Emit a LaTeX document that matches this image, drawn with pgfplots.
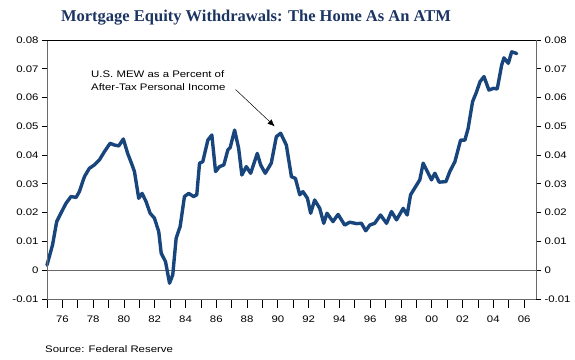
\documentclass[border=0pt]{standalone}
\usepackage{fontspec}
\setmainfont{Liberation Sans}
\newfontfamily\sansS[FakeStretch=1.2]{Liberation Sans}
\newfontfamily\titlefont{Liberation Serif}
\usepackage{pgfplots}
\usepackage{pgfplotstable}
\usetikzlibrary{arrows.meta}
\pgfplotsset{compat=1.18}
\definecolor{mewblue}{RGB}{24,70,124}
\definecolor{titleblue}{RGB}{28,52,98}
\definecolor{axgray}{RGB}{105,105,105}
\pgfplotstableread{
year mew
1975.00 0.0018
1975.36 0.0088
1975.63 0.0169
1975.90 0.0198
1976.24 0.0233
1976.56 0.0256
1976.89 0.0253
1977.10 0.0273
1977.43 0.0325
1977.75 0.0354
1978.08 0.0366
1978.40 0.0383
1978.73 0.0412
1979.10 0.0441
1979.38 0.0435
1979.66 0.0432
1979.96 0.0456
1980.24 0.0406
1980.50 0.0370
1980.68 0.0343
1980.96 0.0250
1981.18 0.0267
1981.44 0.0238
1981.70 0.0198
1981.98 0.0181
1982.26 0.0134
1982.42 0.0059
1982.70 0.0030
1982.96 -0.0045
1983.17 -0.0016
1983.39 0.0111
1983.65 0.0152
1983.93 0.0256
1984.21 0.0267
1984.52 0.0256
1984.73 0.0262
1984.91 0.0372
1985.12 0.0377
1985.45 0.0452
1985.71 0.0470
1985.95 0.0343
1986.21 0.0360
1986.49 0.0366
1986.75 0.0418
1986.90 0.0426
1987.19 0.0487
1987.45 0.0424
1987.66 0.0331
1987.95 0.0360
1988.23 0.0337
1988.66 0.0406
1988.88 0.0366
1989.18 0.0337
1989.57 0.0372
1989.90 0.0464
1990.18 0.0476
1990.55 0.0435
1990.88 0.0325
1991.14 0.0319
1991.42 0.0262
1991.63 0.0273
1991.92 0.0250
1992.13 0.0198
1992.39 0.0244
1992.72 0.0215
1992.98 0.0163
1993.19 0.0198
1993.58 0.0169
1993.91 0.0194
1994.34 0.0157
1994.67 0.0167
1995.10 0.0162
1995.43 0.0163
1995.71 0.0137
1995.97 0.0157
1996.29 0.0163
1996.67 0.0192
1997.06 0.0163
1997.38 0.0204
1997.71 0.0175
1998.14 0.0215
1998.40 0.0192
1998.62 0.0262
1999.01 0.0296
1999.22 0.0314
1999.44 0.0372
1999.66 0.0348
1999.98 0.0314
2000.20 0.0337
2000.48 0.0306
2000.92 0.0308
2001.17 0.0343
2001.50 0.0377
2001.87 0.0452
2002.15 0.0452
2002.36 0.0493
2002.65 0.0586
2002.91 0.0620
2003.13 0.0655
2003.39 0.0673
2003.71 0.0626
2004.00 0.0632
2004.25 0.0630
2004.54 0.0713
2004.69 0.0738
2004.97 0.0719
2005.19 0.0759
2005.52 0.0753
}\mewdata
\newcommand{\tickfont}{\sansS\fontsize{9.5}{11}\selectfont}
\begin{document}
\begin{tikzpicture}
\useasboundingbox (0pt,0pt) rectangle (575pt,359pt);
\pgfplotsset{
  base/.style={at={(47pt,60pt)}, anchor=south west, width=489pt, height=259pt,
    scale only axis, xmin=1975, xmax=2006.77, ymin=-0.01, ymax=0.08,
    scaled y ticks=false, scaled x ticks=false,
    tick align=outside, tick style={black, line width=0.8pt},
    axis line style={axgray, line width=1pt, -}}
}
% x axis with data
\begin{axis}[base,
  axis x line*=bottom, axis y line*=left,
  ytick=\empty,
  xtick={1975,...,2006},
  xticklabels={,76,,78,,80,,82,,84,,86,,88,,90,,92,,94,,96,,98,,00,,02,,04,,06},
  major tick length=9pt,
  xticklabel style={font=\tickfont, yshift=-4.5pt},
  clip=false]
\addplot[axgray, line width=1pt] coordinates {(1975,0) (2006.77,0)};
\addplot[mewblue, line width=3.4pt, line join=round, line cap=round] table[x=year, y=mew] {\mewdata};
\draw[-{Latex[length=7pt,width=6pt]}, black, line width=0.5pt] (axis cs:1987.25,0.0628) -- (axis cs:1989.79,0.0500);
\end{axis}
% left y axis
\begin{axis}[base,
  axis x line*=bottom, axis y line*=left,
  xtick=\empty,
  ytick={-0.01,0,0.01,0.02,0.03,0.04,0.05,0.06,0.07,0.08},
  yticklabels={-0.01,0,0.01,0.02,0.03,0.04,0.05,0.06,0.07,0.08},
  major tick length=5pt,
  yticklabel style={font=\tickfont}]
\end{axis}
% right y axis and top line
\begin{axis}[base,
  axis x line*=top, axis y line*=right,
  x axis line style={black, line width=0.9pt},
  xtick=\empty,
  ytick={-0.01,0,0.01,0.02,0.03,0.04,0.05,0.06,0.07,0.08},
  yticklabels={-0.01,0,0.01,0.02,0.03,0.04,0.05,0.06,0.07,0.08},
  major tick length=5pt,
  yticklabel style={font=\tickfont}]
\end{axis}
\node[anchor=center, text=titleblue, font=\titlefont\bfseries\fontsize{16.5}{20}\selectfont] at (256pt,341pt) {Mortgage Equity Withdrawals: The Home As An ATM};
\node[anchor=north west, align=left, inner sep=0pt, font=\sansS\fontsize{9.5}{13.3}\selectfont] at (91pt,289pt) {U.S. MEW as a Percent of\\After-Tax Personal Income};
\node[anchor=west, inner sep=0pt, font=\sansS\fontsize{9.5}{11}\selectfont] at (45pt,10pt) {Source: Federal Reserve};
\end{tikzpicture}
\end{document}
